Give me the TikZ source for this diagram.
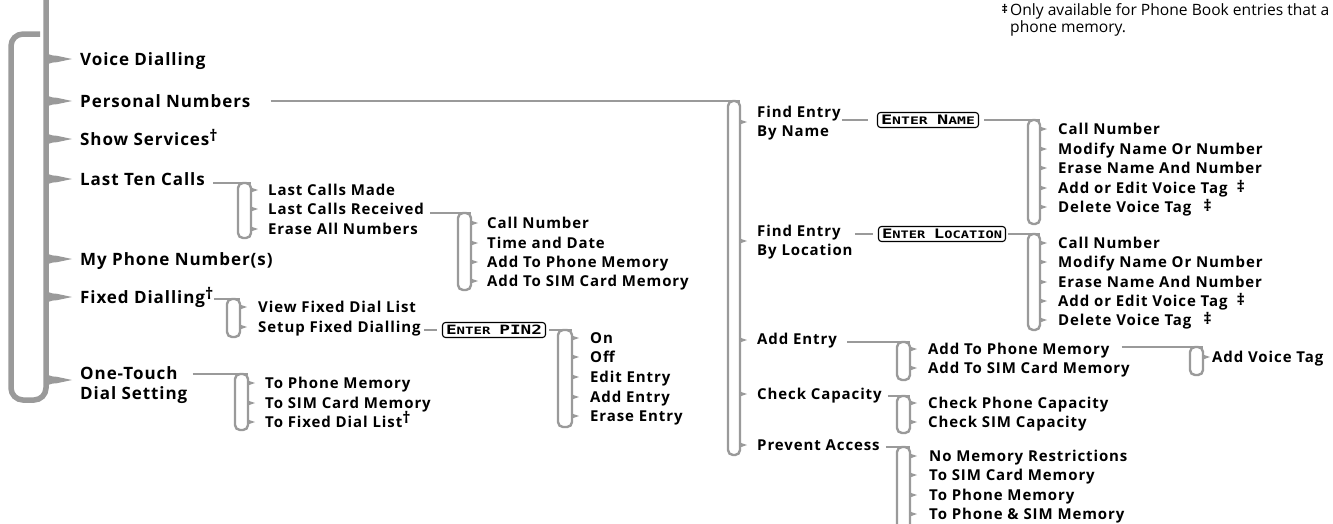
\documentclass[tikz,border=0pt]{standalone}
\usepackage{fontspec}
\usepackage{graphicx}
\setmainfont{Open Sans}
\newfontfamily\lonefont[LetterSpace=5.5]{Open Sans}
\newfontfamily\ltwofont[LetterSpace=6]{Open Sans}
\newfontfamily\lcdfont{DejaVu Sans Mono}
\usetikzlibrary{calc}
\definecolor{lg}{HTML}{9A9A9A}
\newcommand\dg{\raisebox{4pt}{\fontsize{16}{16}\selectfont\bfseries †}}
\newcommand\ddg{\raisebox{1pt}{\fontsize{16}{16}\selectfont\bfseries ‡}}
\newcommand\mytip[2]{\fill[lg] (#1-1,#2-2.8) -- (#1+7,#2) -- (#1-1,#2+2.8) -- cycle;}
\newcommand\mainpoint[1]{\fill[lg] (44,#1-13) .. controls (46,#1-4) and (50,#1-3.5) .. (57,#1-3.2) -- (72,#1) -- (57,#1+3.2) .. controls (50,#1+3.5) and (46,#1+4) .. (44,#1+13) -- cycle;}
\newcommand\lcd[2]{{\fontsize{12}{12}\selectfont #1}{\fontsize{9.5}{9.5}\selectfont #2}}
\newcommand\lcdbox[2]{\resizebox{#1}{9.5pt}{\lcdfont\bfseries #2}}
\tikzset{
 lone/.style={anchor=base west, inner sep=0pt, align=left, font=\lonefont\fontsize{17}{20}\selectfont\bfseries},
 ltwo/.style={anchor=base west, inner sep=0pt, align=left, font=\ltwofont\fontsize{15}{19}\selectfont\bfseries},
 conn/.style={draw=lg, line width=2.4pt},
 brk/.style={draw=lg, line width=2.4pt, rounded corners=5pt},
 mainbar/.style={draw=lg, line width=5.5pt, rounded corners=12pt},
 enterbox/.style={draw=black, line width=1.1pt, rounded corners=3pt, inner sep=0pt, minimum height=15pt},
}
\begin{document}
\begin{tikzpicture}[x=1pt,y=-1pt]
\useasboundingbox (0,0) rectangle (1333,523);
% main bar and loop
\draw[mainbar] (46,-10) -- (46,400) -- (11,400) -- (11,34) -- (40,34);
\foreach \yy in {59,101,139,179,259,297,380} {\mainpoint{\yy}}
% level 1
\node[lone] (voice) at (80,65) {Voice Dialling};
\node[lone] (personal) at (80,107) {Personal Numbers};
\node[lone] (show) at (80,145) {Show Services\dg};
\node[lone] (last) at (80,185) {Last Ten Calls};
\node[lone] (myphone) at (80,265) {My Phone Number(s)};
\node[lone] (fixed) at (80,303) {Fixed Dialling\dg};
\node[lone] (onetouch) at (80,399) {One-Touch\\Dial Setting};
% bracket coordinates
\coordinate (b1) at (251,183);
\coordinate (b2) at (471,213);
\coordinate (b3) at (240,299);
\coordinate (b4) at (572,330);
\coordinate (b5) at (248,374);
\coordinate (b6) at (740,101);
\coordinate (b7) at (1040,120);
\coordinate (b8) at (1040,234);
\coordinate (b9) at (910,342);
\coordinate (b10) at (1203,347);
\coordinate (b11) at (910,396);
\coordinate (b12) at (910,447);
% brackets
\draw[brk] (238,183) rectangle (251,238);
\draw[brk] (458,213) rectangle (471,290);
\draw[brk] (227,299) rectangle (240,337);
\draw[brk] (558,330) rectangle (572,427);
\draw[brk] (235,374) rectangle (248,430);
\draw[brk] (728,101) rectangle (740,455);
\draw[brk] (1028,120) rectangle (1040,224);
\draw[brk] (1028,234) rectangle (1040,330);
\draw[brk] (897,342) rectangle (910,380);
\draw[brk] (1190,347) rectangle (1203,375);
\draw[brk] (897,396) rectangle (910,433);
\draw[brk] (897,447) rectangle (910,540);
% tips
\foreach \yy in {190,209,229} {\mytip{251}{\yy}}
\foreach \yy in {223,243,262,281} {\mytip{471}{\yy}}
\foreach \yy in {307,327} {\mytip{240}{\yy}}
\foreach \yy in {338,357,377,397,416} {\mytip{572}{\yy}}
\foreach \yy in {383,403,422} {\mytip{248}{\yy}}
\foreach \yy in {122,241,340,394,445} {\mytip{740}{\yy}}
\foreach \yy in {129,149,168,188,207} {\mytip{1040}{\yy}}
\foreach \yy in {243,262,282,301,320} {\mytip{1040}{\yy}}
\foreach \yy in {349,368} {\mytip{910}{\yy}}
\foreach \yy in {357} {\mytip{1203}{\yy}}
\foreach \yy in {403,422} {\mytip{910}{\yy}}
\foreach \yy in {456,475,495,514} {\mytip{910}{\yy}}
% level 2 texts
\node[ltwo] (lcm) at (268,195) {Last Calls Made};
\node[ltwo] (lcr) at (268,214) {Last Calls Received};
\node[ltwo] (ean) at (268,234) {Erase All Numbers};
\node[ltwo] (r1) at (487,228) {Call Number};
\node[ltwo] (r2) at (487,248) {Time and Date};
\node[ltwo] (r3) at (487,267) {Add To Phone Memory};
\node[ltwo] (r4) at (487,286) {Add To SIM Card Memory};
\node[ltwo] (vfd) at (258,312) {View Fixed Dial List};
\node[ltwo] (setup) at (258,332) {Setup Fixed Dialling};
\node[enterbox, minimum width=103pt] (pin) at (494,330) {\lcdbox{96pt}{\lcd{E}{NTER} \lcd{PIN2}{}}};
\node[ltwo] (p1) at (590,343) {On};
\node[ltwo] (p2) at (590,362) {Off};
\node[ltwo] (p3) at (590,382) {Edit Entry};
\node[ltwo] (p4) at (590,402) {Add Entry};
\node[ltwo] (p5) at (590,421) {Erase Entry};
\node[ltwo] (o1) at (265,388) {To Phone Memory};
\node[ltwo] (o2) at (265,408) {To SIM Card Memory};
\node[ltwo] (o3) at (265,427) {To Fixed Dial List\dg};
\node[ltwo] (fname) at (757,136) {Find Entry\\By Name};
\node[ltwo] (floc) at (757,255) {Find Entry\\By Location};
\node[ltwo] (addentry) at (757,344) {Add Entry};
\node[ltwo] (check) at (757,399) {Check Capacity};
\node[ltwo] (prevent) at (757,450) {Prevent Access};
\node[enterbox, minimum width=101pt] (name) at (928,120) {\lcdbox{94pt}{\lcd{E}{NTER} \lcd{N}{AME}}};
\node[enterbox, minimum width=127pt] (loc) at (942,234) {\lcdbox{120pt}{\lcd{E}{NTER} \lcd{L}{OCATION}}};
\node[ltwo] (n1) at (1058,134) {Call Number};
\node[ltwo] (n2) at (1058,154) {Modify Name Or Number};
\node[ltwo] (n3) at (1058,173) {Erase Name And Number};
\node[ltwo] (n4) at (1058,193) {Add or Edit Voice Tag\hspace{9pt}\ddg};
\node[ltwo] (n5) at (1058,212) {Delete Voice Tag\hspace{12pt}\ddg};
\node[ltwo] (l1) at (1058,248) {Call Number};
\node[ltwo] (l2) at (1058,267) {Modify Name Or Number};
\node[ltwo] (l3) at (1058,287) {Erase Name And Number};
\node[ltwo] (l4) at (1058,306) {Add or Edit Voice Tag\hspace{9pt}\ddg};
\node[ltwo] (l5) at (1058,325) {Delete Voice Tag\hspace{12pt}\ddg};
\node[ltwo] (a1) at (928,354) {Add To Phone Memory};
\node[ltwo] (a2) at (928,373) {Add To SIM Card Memory};
\node[ltwo] (avt) at (1212,362) {Add Voice Tag};
\node[ltwo] (c1) at (928,408) {Check Phone Capacity};
\node[ltwo] (c2) at (928,427) {Check SIM Capacity};
\node[ltwo] (v1) at (929,461) {No Memory Restrictions};
\node[ltwo] (v2) at (929,480) {To SIM Card Memory};
\node[ltwo] (v3) at (929,500) {To Phone Memory};
\node[ltwo] (v4) at (929,519) {To Phone \& SIM Memory};
% connectors
\draw[conn] ($(personal.east |- b6)+(20,0)$) -- (b6);
\draw[conn] ($(last.east |- b1)+(8,0)$) -- (b1);
\draw[conn] ($(fixed.east |- b3)+(1,0)$) -- (b3);
\draw[conn] ($(onetouch.east |- b5)+(5,0)$) -- (b5);
\draw[conn] ($(lcr.east |- b2)+(6,0)$) -- (b2);
\draw[conn] ($(setup.east |- pin.west)+(3,0)$) -- ($(pin.west)+(-5,0)$);
\draw[conn] ($(pin.east)+(3,0)$) -- (b4);
\draw[conn] ($(fname.east |- name.west)+(1,0)$) -- ($(name.west)+(-9,0)$);
\draw[conn] ($(name.east)+(5,0)$) -- (b7);
\draw[conn] ($(floc.east |- loc.west)+(2,0)$) -- ($(loc.west)+(-5,0)$);
\draw[conn] ($(loc.east)+(2,0)$) -- (b8);
\draw[conn] ($(addentry.east |- b9)+(10,0)$) -- (b9);
\draw[conn] ($(a1.east |- b10)+(12,0)$) -- (b10);
\draw[conn] ($(check.east |- b11)+(6,0)$) -- (b11);
\draw[conn] ($(prevent.east |- b12)+(6,0)$) -- (b12);
% footnote
\node[anchor=base west, inner sep=0pt, align=left, font=\fontsize{15.6}{15}\selectfont] (note) at (1010,32) {Only available for Phone Book entries that a\\phone memory.};
\node[anchor=base east, inner sep=0pt, font=\fontsize{12}{12}\selectfont\bfseries] (ddgnote) at (1008,13) {‡};
\end{tikzpicture}
\end{document}
